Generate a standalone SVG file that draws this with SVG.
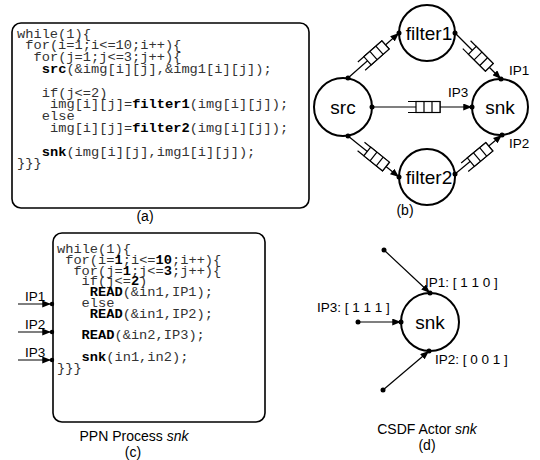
<svg xmlns="http://www.w3.org/2000/svg" width="540" height="460" viewBox="0 0 540 460">
<style>
.code{font-family:"Liberation Mono","Courier New",monospace;font-size:13.7px;fill:#333}
.b{font-weight:bold;fill:#000}
.lbl{font-family:"Liberation Sans",Arial,sans-serif;font-size:13.5px;fill:#000}
.cap{font-family:"Liberation Sans",Arial,sans-serif;font-size:14px;fill:#000;text-anchor:middle}
.nm{font-family:"Liberation Sans",Arial,sans-serif;font-size:19px;fill:#000;text-anchor:middle}
.box{fill:#fff;stroke:#000;stroke-width:1.6}
.node{fill:#fff;stroke:#000;stroke-width:2}
.edge{stroke:#000;stroke-width:1.2;fill:none}
.dot{fill:#000}
</style>
<defs>
<marker id="arr" viewBox="0 0 10 8" refX="10" refY="4" markerWidth="9" markerHeight="7" orient="auto" markerUnits="userSpaceOnUse"><path d="M0,0 L10,4 L0,8 z" fill="#000"/></marker>
<g id="fifo"><path d="M-16,-5.5 H16 V5.5 H-16" fill="none" stroke="#000" stroke-width="1.2"/><rect x="-8" y="-5.5" width="24" height="11" fill="#fff" stroke="#000" stroke-width="1.2"/><path d="M0,-5.5 V5.5 M8,-5.5 V5.5" stroke="#000" stroke-width="1.2"/></g>
</defs>
<rect width="540" height="460" fill="#fff"/>

<!-- (a) -->
<g id="codeA">
<rect class="box" x="12" y="23" width="297" height="185" rx="9"/>
<text class="code" x="17" y="37.5">while(1){</text>
<text class="code" x="25.25" y="49.3">for(i=1;i&lt;=10;i++){</text>
<text class="code" x="33.5" y="61.1">for(j=1;j&lt;=3;j++){</text>
<text class="code" x="41.75" y="72.9"><tspan class="b">src</tspan>(&amp;img[i][j],&amp;img1[i][j]);</text>
<text class="code" x="41.75" y="96.5">if(j&lt;=2)</text>
<text class="code" x="50" y="108.3">img[i][j]=<tspan class="b">filter1</tspan>(img[i][j]);</text>
<text class="code" x="41.75" y="120.1">else</text>
<text class="code" x="50" y="131.9">img[i][j]=<tspan class="b">filter2</tspan>(img[i][j]);</text>
<text class="code" x="41.75" y="155.5"><tspan class="b">snk</tspan>(img[i][j],img1[i][j]);</text>
<text class="code" x="17" y="167.3">}}}</text>
<text class="cap" x="145" y="221">(a)</text>
</g>

<!-- (b) connectors -->
<g id="edgesB">
<line class="edge" x1="348" y1="78" x2="399" y2="33" marker-end="url(#arr)"/>
<line class="edge" x1="455" y1="33" x2="501" y2="79" marker-end="url(#arr)"/>
<line class="edge" x1="372" y1="107" x2="472" y2="107" marker-end="url(#arr)"/>
<line class="edge" x1="348" y1="136" x2="399" y2="177" marker-end="url(#arr)"/>
<line class="edge" x1="455" y1="174" x2="502" y2="135" marker-end="url(#arr)"/>
<use href="#fifo" transform="translate(373.5,55.5) rotate(-41.4)"/>
<use href="#fifo" transform="translate(478,56) rotate(45)"/>
<use href="#fifo" transform="translate(424,107)"/>
<use href="#fifo" transform="translate(373.5,156.5) rotate(38.8)"/>
<use href="#fifo" transform="translate(477,157) rotate(-39.7)"/>
</g>
<g id="src"><circle class="node" cx="343" cy="107" r="29"/><text class="nm" x="343" y="114">src</text><circle class="dot" cx="348" cy="78" r="2.5"/><circle class="dot" cx="372" cy="107" r="2.5"/><circle class="dot" cx="348" cy="136" r="2.5"/></g>
<g id="filter1"><circle class="node" cx="427" cy="33" r="28"/><text class="nm" x="429" y="40">filter1</text><circle class="dot" cx="399" cy="33" r="2.5"/><circle class="dot" cx="455" cy="33" r="2.5"/></g>
<g id="filter2"><circle class="node" cx="427" cy="177" r="28"/><text class="nm" x="429" y="184">filter2</text><circle class="dot" cx="399" cy="177" r="2.5"/><circle class="dot" cx="455" cy="174" r="2.5"/></g>
<g id="snkB"><circle class="node" cx="500" cy="107" r="28"/><text class="nm" x="500" y="114">snk</text><circle class="dot" cx="501" cy="79" r="2.5"/><circle class="dot" cx="472" cy="107" r="2.5"/><circle class="dot" cx="502" cy="135" r="2.5"/></g>
<g id="labelsB">
<text class="lbl" x="509" y="75">IP1</text>
<text class="lbl" x="448" y="97">IP3</text>
<text class="lbl" x="509" y="148">IP2</text>
<text class="cap" x="405" y="215">(b)</text>
</g>

<!-- (c) -->
<g id="codeC">
<rect class="box" x="53" y="233" width="212" height="189" rx="9"/>
<text class="code" x="57" y="253">while(1){</text>
<text class="code" x="65.2" y="263.8">for(i=<tspan class="b">1</tspan>;i&lt;=<tspan class="b">10</tspan>;i++){</text>
<text class="code" x="73.4" y="274.6">for(j=<tspan class="b">1</tspan>;j&lt;=<tspan class="b">3</tspan>;j++){</text>
<text class="code" x="81.6" y="285.4">if(j&lt;=<tspan class="b">2</tspan>)</text>
<text class="code" x="89.8" y="296.2"><tspan class="b">READ</tspan>(&amp;in1,IP1);</text>
<text class="code" x="81.6" y="307">else</text>
<text class="code" x="89.8" y="317.8"><tspan class="b">READ</tspan>(&amp;in1,IP2);</text>
<text class="code" x="81.6" y="339.4"><tspan class="b">READ</tspan>(&amp;in2,IP3);</text>
<text class="code" x="81.6" y="361"><tspan class="b">snk</tspan>(in1,in2);</text>
<text class="code" x="57" y="371.8">}}}</text>
</g>
<g id="portsC">
<line class="edge" x1="18" y1="304" x2="51" y2="304" marker-end="url(#arr)"/>
<line class="edge" x1="18" y1="332" x2="51" y2="332" marker-end="url(#arr)"/>
<line class="edge" x1="18" y1="360" x2="51" y2="360" marker-end="url(#arr)"/>
<circle class="dot" cx="52" cy="304" r="2.2"/><circle class="dot" cx="52" cy="332" r="2.2"/><circle class="dot" cx="52" cy="360" r="2.2"/>
<text class="lbl" x="25" y="301">IP1</text>
<text class="lbl" x="25" y="329">IP2</text>
<text class="lbl" x="25" y="357">IP3</text>
</g>
<text class="cap" x="134" y="441">PPN Process <tspan font-style="italic">snk</tspan></text>
<text class="cap" x="133" y="457">(c)</text>

<!-- (d) -->
<g id="edgesD">
<line class="edge" x1="384" y1="250" x2="430" y2="293" marker-end="url(#arr)"/>
<line class="edge" x1="358" y1="322" x2="401" y2="322" marker-end="url(#arr)"/>
<line class="edge" x1="383" y1="390" x2="429" y2="351" marker-end="url(#arr)"/>
<circle class="dot" cx="384" cy="250" r="2.5"/><circle class="dot" cx="358" cy="322" r="2.5"/><circle class="dot" cx="383" cy="390" r="2.5"/>
</g>
<g id="snkD"><circle class="node" cx="430" cy="322" r="29"/><text class="nm" x="430" y="329">snk</text><circle class="dot" cx="430" cy="293" r="2.5"/><circle class="dot" cx="401" cy="322" r="2.5"/><circle class="dot" cx="429" cy="351" r="2.5"/></g>
<g id="labelsD">
<text class="lbl" x="425" y="287" font-size="14">IP1: [ 1 1 0 ]</text>
<text class="lbl" x="317" y="312" font-size="14">IP3: [ 1 1 1 ]</text>
<text class="lbl" x="435" y="364" font-size="14">IP2: [ 0 0 1 ]</text>
</g>
<text class="cap" x="427" y="434" font-size="15">CSDF Actor <tspan font-style="italic">snk</tspan></text>
<text class="cap" x="427" y="450">(d)</text>
</svg>
